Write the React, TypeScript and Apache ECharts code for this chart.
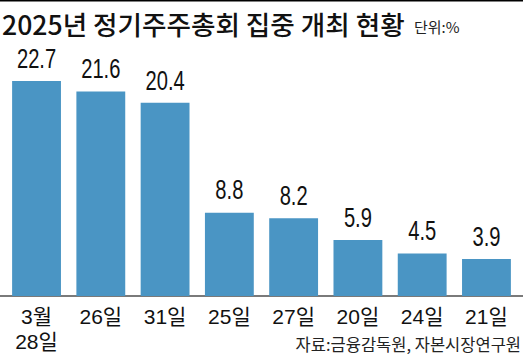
import React, { useEffect, useRef } from "react";
import * as echarts from "echarts";

const titleText = "2025년 정기주주총회 집중 개최 현황";
const unitText = "단위:%";
const sourceText = "자료:금융감독원, 자본시장연구원";
const categories = ["3월\n28일", "26일", "31일", "25일", "27일", "20일", "24일", "21일"];
const values = [22.7, 21.6, 20.4, 8.8, 8.2, 5.9, 4.5, 3.9];

const CJK = "'Noto Sans CJK KR', sans-serif";
const LAT = "'Liberation Sans', 'Noto Sans CJK KR', sans-serif";

export default function App() {
  const ref = useRef<HTMLDivElement>(null);
  useEffect(() => {
    document.body.style.margin = "0";
    const chart = echarts.init(ref.current!, null, { renderer: "svg" });
    chart.setOption({
      animation: false,
      backgroundColor: "#ffffff",
      grid: { left: 4.4, right: 4.4, top: 59.2, bottom: 59 },
      xAxis: {
        type: "category",
        data: categories,
        axisLine: { show: false },
        axisTick: { show: false },
        axisLabel: {
          color: "#111",
          fontSize: 21,
          fontFamily: LAT,
          lineHeight: 25,
          margin: 8,
        },
      },
      yAxis: {
        type: "value",
        min: 0,
        max: 25,
        show: false,
        splitLine: { show: false },
      },
      series: [
        {
          type: "bar",
          data: values,
          barCategoryGap: "24%",
          itemStyle: { color: "#4a95c4" },
        },
        {
          type: "custom",
          data: values.map((v, i) => [i, v]),
          encode: { x: 0, y: 1 },
          z: 10,
          silent: true,
          renderItem: (_params: any, api: any) => {
            const v = api.value(1);
            const p = api.coord([api.value(0), v]);
            return {
              type: "text",
              x: p[0],
              y: p[1] - 9,
              scaleX: 0.72,
              style: {
                text: Number(v).toFixed(1),
                fontSize: 28,
                fontFamily: LAT,
                fill: "#111",
                align: "center",
                verticalAlign: "bottom",
              },
            };
          },
        },
      ],
      graphic: [
        { type: "rect", shape: { x: 0, y: 0, width: 523, height: 1.5 }, style: { fill: "#000" } },
        { type: "rect", shape: { x: 0, y: 295, width: 523, height: 2 }, style: { fill: "#7a7a7a" } },
        {
          type: "text",
          x: 2,
          y: 37,
          style: {
            text: titleText,
            fontSize: 26.6,
            fontWeight: 500,
            fontFamily: CJK,
            fill: "#111",
            textVerticalAlign: "bottom",
          },
        },
        {
          type: "text",
          x: 414,
          y: 34,
          style: {
            text: unitText,
            fontSize: 15,
            fontFamily: CJK,
            fill: "#222",
            textVerticalAlign: "bottom",
          },
        },
        {
          type: "text",
          x: 521,
          y: 352,
          style: {
            text: sourceText,
            fontSize: 16.5,
            fontFamily: CJK,
            fill: "#222",
            textAlign: "right",
            textVerticalAlign: "bottom",
          },
        },
      ],
    });
    return () => chart.dispose();
  }, []);
  return <div ref={ref} style={{ width: 523, height: 355 }} />;
}
